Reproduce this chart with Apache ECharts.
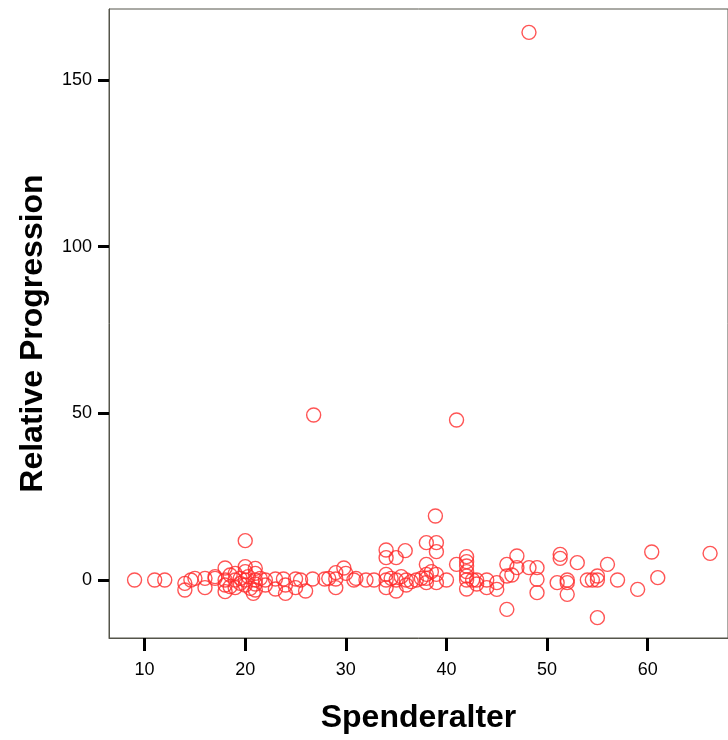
<!DOCTYPE html>
<html>
<head>
<meta charset="utf-8">
<script src="https://cdn.jsdelivr.net/npm/echarts@6/dist/echarts.min.js"></script>
<style>
html,body{margin:0;padding:0;background:#fff;}
#chart{width:728px;height:740px;}
</style>
</head>
<body>
<div id="chart"></div>
<script>
// Spenderalter (donor age) and Relative Progression
const ages = [
  9, 11, 12,
  14, 14, 14.6, 15,
  16, 16, 17, 17,
  18, 18, 18, 18, 18.5, 18.5,
  19, 19, 19, 19.5, 19.5,
  20, 20, 20, 20, 20, 20.3, 20.5,
  21, 21, 21, 21, 20.8, 21.5, 21,
  22, 22,
  23, 23, 23.8, 24, 24,
  25, 25, 25.5, 26, 26.7,
  26.8,
  27.9, 28.3, 29, 29, 29, 29.8, 30,
  30.8, 31, 32, 32.8,
  34, 34, 34, 34, 34, 34.5, 35, 35, 35, 35.5, 35.9, 36, 36, 36.5, 37, 37.5,
  38, 38, 38, 38, 38, 38.5,
  38.9, 39, 39, 39, 39,
  40, 41, 41,
  42, 42, 42, 42, 42, 42, 42, 42.6,
  43, 43, 44, 44, 45, 45,
  46, 46, 46, 46.5,
  47, 47,
  48.2, 48.2,
  49, 49, 49,
  51.3, 51.3, 51, 52, 52, 52, 53,
  54, 54.5, 55, 55, 55, 56, 57, 59, 60.4, 61, 66.2
];
const progression = [
  0, 0, 0,
  -1, -3, 0, 0.5,
  0.5, -2.3, 0.5, 1,
  3.6, 0, -1.5, -3.5, 1.5, -2,
  0, -2.3, 2, 0.5, -1,
  11.8, 4, 2.5, 0, -1.5, 1, -2.5,
  3.5, 2, 0, -1.2, -4, 0.5, -3,
  0, -1.5,
  0.3, -2.7, 0.3, -1.5, -4,
  0.3, -2.3, 0, -3.3, 0.3,
  49.5,
  0.3, 0.5, 0.3, -2.3, 2.2, 3.6, 2,
  0, 0.5, 0, 0,
  9, 6.7, 1.7, 0, -2.3, 0.5, 6.7, 0, -3.3, 1, 8.8, 0, -1.5, -0.5, 0, 0.5,
  11.2, 4.7, 1.7, -0.8, 0.5, 2.5,
  19.2, 11.2, 8.5, 1.7, -0.8,
  0, 48, 4.7,
  7, 5.5, 4.2, 2.5, 1.2, 0, -2.7, 0,
  0, -1.2, 0, -2.3, -0.8, -2.8,
  4.7, 1.2, -8.8, 1.5,
  7.2, 3.7,
  164.3, 3.7,
  3.7, 0.2, -3.8,
  7.7, 6.5, -0.8, 0, -0.8, -4.3, 5.2,
  0, 0, 0, 1.2, -11.3, 4.7, 0, -2.8, 8.4, 0.7, 8
];
const xTicks = [10, 20, 30, 40, 50, 60];
const yTicks = [0, 50, 100, 150];
const xTitle = 'Spenderalter';
const yTitle = 'Relative Progression';

const points = ages.map((a, i) => [a, progression[i]]);

const chart = echarts.init(document.getElementById('chart'), null, {renderer: 'canvas'});
const lineCol = '#55554a';
chart.setOption({
  animation: false,
  backgroundColor: '#ffffff',
  grid: {
    left: 109, top: 9, bottom: 102, right: -6,
    show: true, borderColor: lineCol, borderWidth: 1, backgroundColor: 'transparent'
  },
  xAxis: {
    type: 'value',
    min: 6.46, max: 67.98,
    name: xTitle,
    nameLocation: 'middle',
    nameGap: 64,
    nameTextStyle: {fontFamily: 'Liberation Sans, Arial, sans-serif', fontWeight: 'bold', fontSize: 32, color: '#000'},
    axisLine: {show: true, onZero: false, lineStyle: {color: lineCol, width: 1}},
    axisTick: {show: true, customValues: xTicks, length: 13, lineStyle: {color: '#000', width: 3}},
    axisLabel: {customValues: xTicks, margin: 23, fontFamily: 'Liberation Sans, Arial, sans-serif', fontSize: 18, color: '#000'},
    splitLine: {show: false}
  },
  yAxis: {
    type: 'value',
    min: -17.4, max: 171.3,
    name: yTitle,
    nameLocation: 'middle',
    nameGap: 60,
    nameTextStyle: {fontFamily: 'Liberation Sans, Arial, sans-serif', fontWeight: 'bold', fontSize: 32, color: '#000', padding: [0, 0, 0, -20]},
    axisLine: {show: true, onZero: false, lineStyle: {color: lineCol, width: 1}},
    axisTick: {show: true, customValues: yTicks, length: 11, lineStyle: {color: '#000', width: 3}},
    axisLabel: {customValues: yTicks, margin: 17, fontFamily: 'Liberation Sans, Arial, sans-serif', fontSize: 18, color: '#000'},
    splitLine: {show: false}
  },
  series: [{
    type: 'scatter',
    data: points,
    symbol: 'circle',
    symbolSize: 14,
    itemStyle: {color: 'rgba(0,0,0,0)', borderColor: '#ff2a2a', borderWidth: 1.4},
    emphasis: {disabled: true}
  }]
});
</script>
</body>
</html>
